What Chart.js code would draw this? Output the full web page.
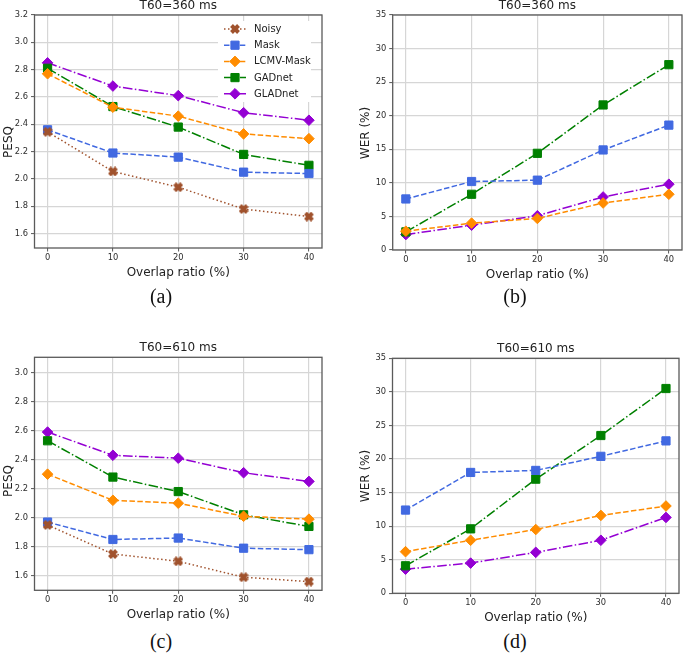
<!DOCTYPE html>
<html><head><meta charset="utf-8">
<script src="https://cdn.jsdelivr.net/npm/chart.js@4.4.0/dist/chart.umd.min.js"></script>
<style>
html,body{margin:0;padding:0;background:#fff;}
body{width:685px;height:655px;position:relative;overflow:hidden;}
canvas{position:absolute;}
.cap{position:absolute;font-family:'Liberation Serif','Times New Roman',serif;font-size:20px;line-height:20px;width:60px;text-align:center;color:#111;}
</style></head><body>
<canvas id="ca" width="345" height="290" style="left:0px;top:0px;width:345px;height:290px"></canvas>
<canvas id="cb" width="340" height="290" style="left:345px;top:0px;width:340px;height:290px"></canvas>
<canvas id="cc" width="345" height="300" style="left:0px;top:330px;width:345px;height:300px"></canvas>
<canvas id="cd" width="340" height="300" style="left:345px;top:330px;width:340px;height:300px"></canvas>
<div class="cap" style="left:131px;top:286px">(a)</div>
<div class="cap" style="left:485px;top:286px">(b)</div>
<div class="cap" style="left:131px;top:631px">(c)</div>
<div class="cap" style="left:485px;top:631px">(d)</div>
<script>
// ---------- data ----------
const overlap = [0, 10, 20, 30, 40];
const xTicks = [0, 10, 20, 30, 40];
const pesqTicks360 = [1.6, 1.8, 2.0, 2.2, 2.4, 2.6, 2.8, 3.0, 3.2];
const pesqTicks610 = [1.6, 1.8, 2.0, 2.2, 2.4, 2.6, 2.8, 3.0];
const werTicks = [0, 5, 10, 15, 20, 25, 30, 35];

const pesq360_noisy   = [2.345, 2.055, 1.94, 1.78, 1.725];
const pesq360_mask    = [2.36, 2.19, 2.16, 2.05, 2.04];
const pesq360_lcmv    = [2.77, 2.525, 2.46, 2.33, 2.295];
const pesq360_gadnet  = [2.81, 2.53, 2.38, 2.18, 2.10];
const pesq360_gladnet = [2.85, 2.68, 2.61, 2.485, 2.43];

const wer360_mask    = [7.6, 10.2, 10.4, 14.9, 18.6];
const wer360_lcmv    = [2.8, 4.0, 4.7, 7.0, 8.3];
const wer360_gadnet  = [2.7, 8.3, 14.4, 21.6, 27.6];
const wer360_gladnet = [2.3, 3.7, 5.1, 7.9, 9.8];

const pesq610_noisy   = [1.95, 1.75, 1.70, 1.59, 1.56];
const pesq610_mask    = [1.97, 1.85, 1.86, 1.79, 1.78];
const pesq610_lcmv    = [2.30, 2.12, 2.10, 2.01, 1.99];
const pesq610_gadnet  = [2.53, 2.28, 2.18, 2.02, 1.94];
const pesq610_gladnet = [2.59, 2.43, 2.41, 2.31, 2.25];

const wer610_mask    = [12.4, 18.0, 18.3, 20.4, 22.7];
const wer610_lcmv    = [6.2, 7.9, 9.5, 11.6, 13.0];
const wer610_gadnet  = [4.1, 9.6, 17.0, 23.5, 30.5];
const wer610_gladnet = [3.6, 4.5, 6.1, 7.9, 11.3];

// ---------- styles ----------
Chart.defaults.font.family = '"DejaVu Sans", sans-serif';

function makeXImage(color) {
  const c = document.createElement('canvas');
  c.width = 10; c.height = 10;
  const g = c.getContext('2d');
  g.strokeStyle = color; g.lineWidth = 4; g.lineCap = 'butt';
  g.beginPath(); g.moveTo(1.5, 1.5); g.lineTo(8.5, 8.5); g.moveTo(8.5, 1.5); g.lineTo(1.5, 8.5); g.stroke();
  return c;
}
const styles = {
  'Noisy':     {color: '#a0522d', dash: [1.5, 2.5], point: makeXImage('#a0522d'), r: 5},
  'Mask':      {color: '#4169e1', dash: [5.5, 2.4], point: 'rect', r: 5.8},
  'LCMV-Mask': {color: '#ff8c00', dash: [5.5, 2.4], point: 'rectRot', r: 5.3},
  'GADnet':    {color: '#008000', dash: [9.6, 2.4, 1.5, 2.4], point: 'rect', r: 5.8},
  'GLADnet':   {color: '#9400d3', dash: [9.6, 2.4, 1.5, 2.4], point: 'rectRot', r: 5.3}
};

function ds(name, arr) {
  const s = styles[name];
  return {
    label: name,
    data: overlap.map((x, i) => ({x: x, y: arr[i]})),
    borderColor: s.color, backgroundColor: s.color,
    borderWidth: 1.5, borderDash: s.dash,
    pointStyle: s.point, pointRadius: s.r, pointBorderWidth: 1,
    pointBackgroundColor: s.color, pointBorderColor: s.color,
    tension: 0, fill: false
  };
}

function drawMarker(ctx, s, x, y) {
  ctx.save();
  ctx.setLineDash([]);
  ctx.fillStyle = s.color; ctx.strokeStyle = s.color; ctx.lineWidth = 1;
  if (s.point instanceof HTMLCanvasElement) {
    ctx.drawImage(s.point, x - s.point.width / 2, y - s.point.height / 2);
  } else if (s.point === 'rect') {
    const h = s.r * Math.SQRT1_2;
    ctx.beginPath(); ctx.rect(x - h, y - h, 2 * h, 2 * h); ctx.fill(); ctx.stroke();
  } else {
    const r = s.r;
    ctx.beginPath(); ctx.moveTo(x - r, y); ctx.lineTo(x, y - r); ctx.lineTo(x + r, y); ctx.lineTo(x, y + r); ctx.closePath(); ctx.fill(); ctx.stroke();
  }
  ctx.restore();
}

const decor = {
  id: 'decor',
  afterDatasetsDraw(chart, args, o) {
    const ctx = chart.ctx, a = chart.chartArea;
    ctx.save();
    ctx.strokeStyle = '#5a5a5a'; ctx.lineWidth = 1.3; ctx.setLineDash([]);
    ctx.strokeRect(a.left, a.top, a.right - a.left, a.bottom - a.top);
    const cx = (a.left + a.right) / 2;
    ctx.fillStyle = '#222'; ctx.font = '12px "DejaVu Sans"';
    ctx.textAlign = 'center'; ctx.textBaseline = 'alphabetic';
    ctx.fillText(o.title, cx, a.top - 6);
    ctx.fillText(o.xTitle, cx, a.bottom + 28);
    ctx.save();
    ctx.translate(o.yTitleX, o.yTitleY); ctx.rotate(-Math.PI / 2);
    ctx.textBaseline = 'middle';
    ctx.fillText(o.yTitle, 0, 0);
    ctx.restore();
    if (o.legend) {
      const L = o.legend;
      ctx.fillStyle = '#ffffff';
      ctx.fillRect(L.x, L.y, L.w, L.h);
      chart.data.datasets.forEach((d, i) => {
        const s = styles[d.label];
        const y = L.row0 + i * L.step;
        ctx.save();
        ctx.strokeStyle = s.color; ctx.lineWidth = 1.5; ctx.setLineDash(s.dash);
        ctx.beginPath(); ctx.moveTo(L.lx0, y); ctx.lineTo(L.lx1, y); ctx.stroke();
        ctx.restore();
        drawMarker(ctx, s, (L.lx0 + L.lx1) / 2, y);
        ctx.fillStyle = '#222'; ctx.font = '10px "DejaVu Sans"';
        ctx.textAlign = 'left'; ctx.textBaseline = 'middle';
        ctx.fillText(d.label, L.tx, y + 0.5);
      });
    }
    ctx.restore();
  }
};

function makeChart(id, g) {
  new Chart(document.getElementById(id), {
    type: 'line',
    data: {datasets: g.datasets},
    plugins: [decor],
    options: {
      responsive: false, animation: false, devicePixelRatio: 1,
      layout: {autoPadding: false, padding: {left: 0, top: g.T, right: g.padR, bottom: 0}},
      plugins: {legend: {display: false}, title: {display: false}, tooltip: {enabled: false},
        decor: {title: g.title, xTitle: 'Overlap ratio (%)', yTitle: g.yTitle, yTitleX: g.ytx, yTitleY: g.yty, legend: g.legend}},
      scales: {
        x: {type: 'linear', min: -2, max: 42,
          afterBuildTicks: s => { s.ticks = xTicks.map(v => ({value: v})); },
          afterFit: s => { s.height = g.xH; },
          ticks: {autoSkip: false, maxRotation: 0, minRotation: 0, padding: 1, color: '#2e2e2e', font: {size: 8.3}, callback: v => String(v)},
          grid: {color: '#d6d6d6', lineWidth: 1.2, tickLength: 3.5, tickColor: '#555', tickWidth: 1},
          border: {display: false}},
        y: {type: 'linear', min: g.ymin, max: g.ymax,
          afterBuildTicks: s => { s.ticks = g.yTicks.map(v => ({value: v})); },
          afterFit: s => { s.width = g.L; },
          ticks: {autoSkip: false, padding: 3, color: '#2e2e2e', font: {size: 8.3}, callback: g.fmt},
          grid: {color: '#d6d6d6', lineWidth: 1.2, tickLength: 3.5, tickColor: '#555', tickWidth: 1},
          border: {display: false}}
      }
    }
  });
}

const fmt1 = v => v.toFixed(1);
const fmt0 = v => String(v);

makeChart('ca', {
  datasets: [ds('Noisy', pesq360_noisy), ds('Mask', pesq360_mask), ds('LCMV-Mask', pesq360_lcmv), ds('GADnet', pesq360_gadnet), ds('GLADnet', pesq360_gladnet)],
  T: 15, padR: 23, xH: 42, L: 34.5, ymin: 1.495, ymax: 3.2, yTicks: pesqTicks360, fmt: fmt1,
  title: 'T60=360 ms', yTitle: 'PESQ', ytx: 8.5, yty: 142,
  legend: {x: 218, y: 21, w: 93, h: 81, row0: 29, step: 16.2, lx0: 224, lx1: 246, tx: 254}
});
makeChart('cb', {
  datasets: [ds('Mask', wer360_mask), ds('LCMV-Mask', wer360_lcmv), ds('GADnet', wer360_gadnet), ds('GLADnet', wer360_gladnet)],
  T: 15, padR: 3, xH: 40, L: 47.7, ymin: 0, ymax: 35, yTicks: werTicks, fmt: fmt0,
  title: 'T60=360 ms', yTitle: 'WER (%)', ytx: 20.7, yty: 133, legend: null
});
makeChart('cc', {
  datasets: [ds('Noisy', pesq610_noisy), ds('Mask', pesq610_mask), ds('LCMV-Mask', pesq610_lcmv), ds('GADnet', pesq610_gadnet), ds('GLADnet', pesq610_gladnet)],
  T: 27.3, padR: 23, xH: 39.7, L: 34.5, ymin: 1.5, ymax: 3.105, yTicks: pesqTicks610, fmt: fmt1,
  title: 'T60=610 ms', yTitle: 'PESQ', ytx: 8.5, yty: 151, legend: null
});
makeChart('cd', {
  datasets: [ds('Mask', wer610_mask), ds('LCMV-Mask', wer610_lcmv), ds('GADnet', wer610_gadnet), ds('GLADnet', wer610_gladnet)],
  T: 28.3, padR: 6, xH: 36.7, L: 47.5, ymin: 0, ymax: 35, yTicks: werTicks, fmt: fmt0,
  title: 'T60=610 ms', yTitle: 'WER (%)', ytx: 20.7, yty: 146, legend: null
});
</script>
</body></html>
